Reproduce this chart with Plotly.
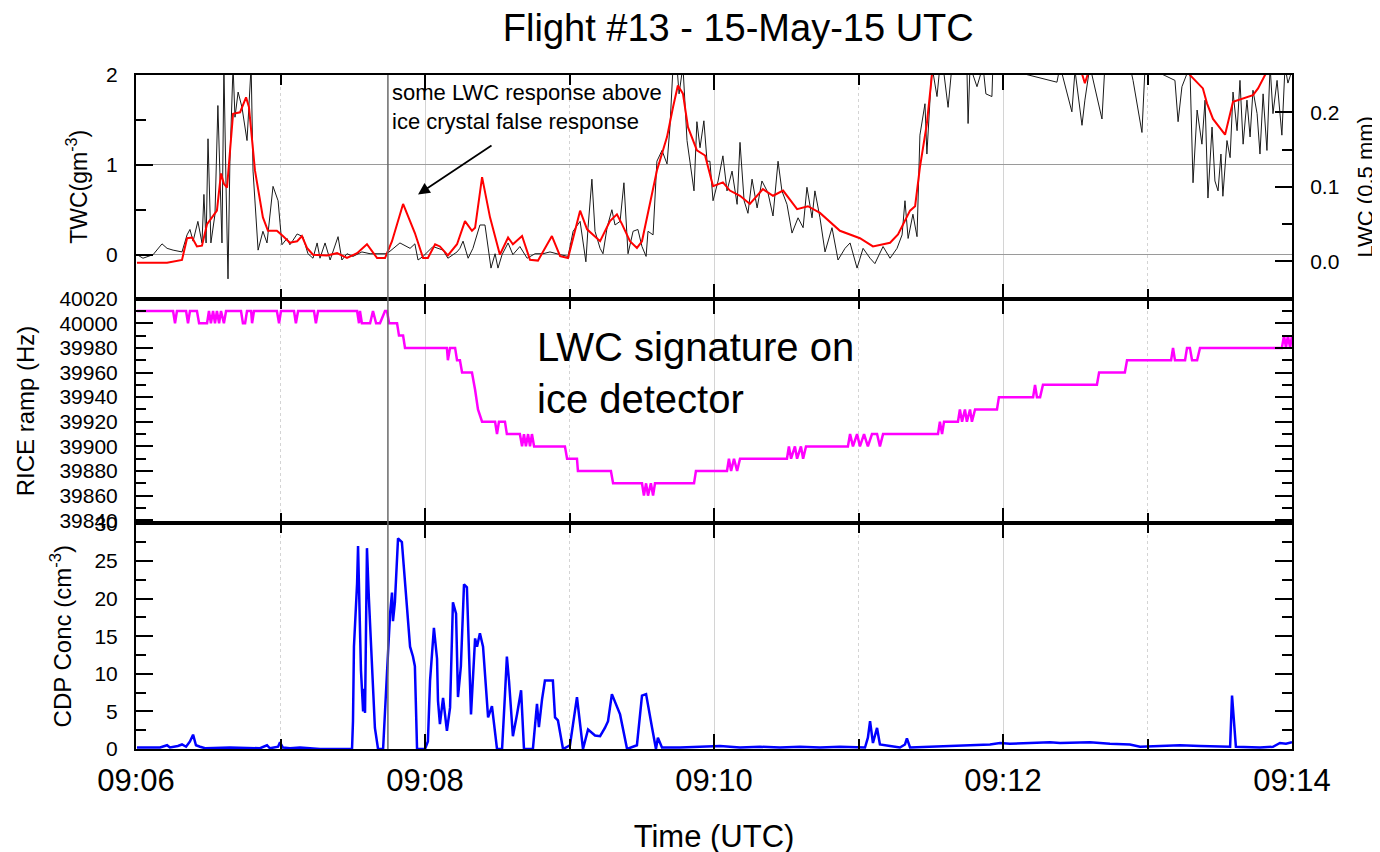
import pandas as pd
import plotly.graph_objects as go

BASE = pd.Timestamp("2015-05-15 09:06:00")
T_END = pd.Timestamp("2015-05-15 09:14:00")

# ---- TWC (g m-3), black, seconds after 09:06:00 ----
twc_t = [0.4, 2.9, 7.1, 10.8, 12.9, 15.4, 19.1, 21.2, 22.4, 23.7, 25.7, 27.4, 28.2, 29.1, 29.9, 31.1,
         32.8, 34.0, 35.7, 36.5, 37.4, 38.2, 39.0, 40.3, 41.1, 42.4, 44.0, 46.1, 47.8, 48.6, 50.7, 52.7,
         54.4, 56.9, 59.0, 60.6, 62.7, 63.9, 65.2, 66.9, 69.3, 71.4, 73.5, 75.2, 76.4, 78.5, 80.6, 83.9,
         85.5, 87.6, 90.1, 93.8, 97.2, 101.3, 104.2, 109.6, 113.8, 115.8, 117.1, 119.2, 123.3, 127.5,
         129.5, 133.3, 134.5, 135.8, 137.9, 139.9, 142.8, 144.9, 147.4, 149.1, 150.3, 152.0, 154.5, 156.5,
         159.4, 162.4, 165.7, 169.0, 171.9, 176.1, 179.4, 181.5, 184.4, 186.8, 187.7, 189.3, 190.6, 192.7,
         193.9, 195.6, 197.6, 198.9, 201.0, 202.6, 204.3, 206.4, 208.4, 210.1, 211.8, 212.6, 214.7, 216.3,
         218.4, 220.5, 221.7, 223.0, 224.6, 225.5, 227.1, 228.8, 230.5, 231.7, 232.9, 234.2, 235.8, 237.1,
         238.3, 239.6, 241.7, 243.7, 245.4, 247.5, 249.6, 250.8, 252.5, 254.1, 255.8, 257.9, 259.9, 262.4,
         264.5, 266.6, 268.2, 270.3, 272.4, 274.9, 277.0, 278.6, 280.7, 281.9, 284.0, 286.1, 289.0, 291.5,
         294.4, 296.5, 299.4, 301.9, 304.8, 306.8, 310.2, 313.1, 316.0, 318.1, 319.3, 320.6, 322.6, 324.3,
         325.5, 327.6, 328.4, 330.5, 332.6, 333.8, 335.1, 337.2, 338.8, 345.0, 345.5, 346.3, 349.2, 351.7,
         352.9, 355.4, 355.8, 382.4, 383.7, 388.6, 389.9, 392.8, 394.0, 396.1, 401.1, 402.3, 412.7, 414.0,
         417.7, 419.0, 431.4, 432.7, 434.3, 437.6, 438.9, 440.6, 442.6, 443.9, 445.1, 446.8, 448.0, 449.3,
         450.5, 451.3, 453.0, 454.3, 455.5, 457.2, 458.4, 459.7, 461.3, 462.6, 463.8, 465.5, 466.7, 468.0,
         469.6, 470.9, 472.1, 473.8, 475.8, 477.1, 478.3, 480.0]
twc_v = [0.0, -0.04, 0.0, 0.12, 0.07, 0.05, 0.03, 0.22, 0.28, 0.15, 0.37, 0.13, 0.67, 0.13, 1.29, 0.13,
         0.45, 1.66, 0.13, 2.1, 0.75, -0.27, 1.04, 2.1, 1.53, 1.81, 1.64, 1.27, 2.1, 0.93, 0.05, 0.26,
         0.13, 0.76, 0.60, 0.11, 0.18, 0.11, 0.16, 0.23, 0.20, 0.01, -0.04, 0.13, -0.04, 0.13, -0.06, 0.20,
         -0.06, 0.01, -0.02, 0.03, 0.01, 0.01, 0.01, 0.13, 0.07, 0.12, -0.06, -0.02, 0.09, 0.05,
         -0.04, 0.03, 0.07, 0.15, -0.04, 0.07, 0.33, 0.33, -0.15, 0.01, -0.15, 0.0, 0.13, 0.0,
         0.09, -0.04, 0.01, 0.01, 0.03, 0.0, -0.02, 0.26, 0.37, -0.08, 0.30, 0.84, 0.26, 0.07,
         0.01, 0.30, 0.50, 0.33, 0.37, 0.80, 0.01, 0.26, 0.28, 0.09, -0.02, 0.26, 0.22, 1.04,
         1.16, 1.01, 1.42, 2.1, 2.1, 1.79, 2.1, 1.27, 0.93, 0.71, 1.48, 1.19, 1.49, 1.04,
         1.04, 0.60, 0.82, 1.10, 0.71, 0.93, 0.56, 1.25, 0.60, 0.46, 0.84, 0.52, 0.82, 0.69,
         0.43, 1.04, 0.71, 0.56, 0.24, 0.41, 0.30, 0.75, 0.41, 0.71, 0.41, 0.03, 0.30, -0.06,
         0.07, 0.13, -0.15, 0.07, -0.04, -0.10, 0.09, -0.04, 0.07, 0.22, 0.60, 0.18, 0.45, 0.20,
         1.33, 1.68, 1.12, 2.1, 1.76, 2.1, 2.1, 1.64, 2.1, 2.1, 1.46, 2.1, 1.87, 2.1,
         1.79, 1.76, 2.1, 1.92, 2.1, 1.59, 2.05, 1.44, 1.72, 2.1, 1.51, 2.1, 2.1, 1.94,
         1.36, 2.1, 1.94, 1.48, 1.87, 2.1, 0.80, 1.61, 1.23, 1.72, 0.63, 1.42, 0.82, 0.71,
         1.12, 0.65, 1.27, 1.08, 1.81, 1.38, 1.94, 1.23, 1.72, 1.31, 1.83, 1.57, 1.12, 1.79,
         1.16, 2.1, 1.57, 1.94, 1.33, 2.1, 1.91, 2.05]

# ---- LWC (0.5 mm), red ----
lwc_t = [0.4, 12.9, 19.1, 21.2, 23.3, 25.3, 27.4, 29.5, 33.6, 35.3, 36.5, 37.8, 40.3, 43.2, 45.7, 46.9,
         49.4, 52.7, 54.8, 58.5, 61.0, 63.9, 66.9, 68.9, 71.0, 73.5, 79.3, 83.5, 87.6, 91.8, 95.9, 100.1,
         103.4, 106.3, 110.9, 115.8, 119.2, 121.2, 124.2, 126.2, 129.5, 133.3, 136.6, 139.5, 140.8, 143.7,
         147.0, 151.1, 154.5, 156.5, 160.3, 163.6, 166.9, 172.7, 176.1, 179.4, 181.5, 184.4, 187.3, 192.7,
         196.8, 199.7, 201.8, 205.1, 208.0, 210.1, 216.3, 220.5, 223.0, 225.0, 227.1, 229.2, 232.9, 236.3,
         239.6, 243.7, 246.6, 250.8, 254.9, 260.3, 264.5, 268.7, 274.5, 279.0, 284.0, 292.3, 300.6, 306.0,
         313.1, 316.4, 321.4, 323.5, 325.5, 328.4, 330.5, 333.8, 350.4, 375.4, 392.0, 394.0, 396.1, 408.6,
         435.6, 437.6, 443.0, 444.7, 447.2, 452.2, 455.5, 461.3, 463.8, 465.9, 468.8, 472.9, 480.0]
lwc_v = [-0.002, -0.002, 0.002, 0.031, 0.032, 0.020, 0.021, 0.050, 0.068, 0.118, 0.104, 0.099, 0.198,
         0.200, 0.220, 0.207, 0.122, 0.059, 0.041, 0.041, 0.034, 0.025, 0.027, 0.034, 0.018, 0.009,
         0.008, 0.011, 0.0045, 0.011, 0.023, 0.0045, 0.0045, 0.027, 0.077, 0.038, 0.0045, 0.0045, 0.023,
         0.020, 0.008, 0.023, 0.054, 0.041, 0.045, 0.113, 0.059, 0.009, 0.032, 0.023, 0.034, 0.002,
         0.001, 0.034, 0.007, 0.0045, 0.031, 0.068, 0.043, 0.027, 0.054, 0.063, 0.050, 0.027, 0.018,
         0.027, 0.122, 0.167, 0.207, 0.236, 0.225, 0.180, 0.149, 0.142, 0.101, 0.106, 0.095, 0.088,
         0.077, 0.097, 0.088, 0.095, 0.070, 0.074, 0.065, 0.041, 0.031, 0.020, 0.025, 0.036, 0.068,
         0.074, 0.126, 0.185, 0.250, 0.280, 0.290, 0.290, 0.260, 0.239, 0.260, 0.280, 0.270, 0.250,
         0.232, 0.212, 0.191, 0.170, 0.214, 0.221, 0.223, 0.232, 0.250, 0.270, 0.280]

# ---- RICE ramp (Hz), magenta ----
rice_t = [0.4, 15.4, 16.2, 17.0, 20.8, 21.6, 22.4, 25.3, 26.2, 29.5, 30.3, 31.1, 32.0, 32.8, 33.6, 34.5,
          35.3, 36.5, 37.4, 43.6, 44.4, 45.3, 46.1, 47.8, 48.2, 49.0, 58.5, 59.4, 60.2, 65.6, 66.4, 67.3,
          73.9, 74.7, 75.6, 91.8, 92.6, 93.0, 93.8, 97.2, 98.4, 99.7, 101.3, 103.4, 104.2, 105.1, 108.4,
          109.2, 110.9, 111.7, 129.1, 129.5, 130.4, 132.5, 133.3, 134.5, 135.4, 139.5, 140.8, 142.0, 143.7,
          149.1, 149.9, 150.7, 153.2, 154.0, 159.4, 160.3, 161.1, 161.9, 162.8, 163.6, 164.4, 165.3, 167.7,
          178.1, 179.0, 183.1, 183.5, 197.2, 198.1, 210.1, 210.9, 211.8, 212.6, 213.8, 214.7, 215.5, 231.7,
          232.5, 245.4, 246.2, 247.1, 248.3, 249.6, 250.8, 270.3, 271.1, 272.0, 273.6, 274.5, 276.1, 277.0,
          278.2, 295.6, 296.5, 297.7, 299.4, 300.6, 302.3, 303.9, 305.6, 307.7, 308.9, 310.2, 333.0, 333.8,
          334.7, 335.5, 341.3, 342.1, 343.0, 344.2, 345.0, 346.3, 347.1, 348.4, 349.6, 357.5, 358.3, 372.5,
          373.3, 374.1, 375.4, 376.6, 399.0, 399.9, 410.6, 411.5, 429.8, 430.6, 431.4, 435.6, 436.4, 437.6,
          438.5, 440.6, 441.8, 475.8, 476.7, 477.5, 478.3, 479.2, 480.0]
rice_v = [40010, 40010, 40000, 40010, 40010, 40000, 40010, 40010, 40000, 40000, 40010, 40000, 40010, 40000,
          40010, 40000, 40010, 40000, 40010, 40010, 40000, 40000, 40010, 40010, 40000, 40010, 40010, 40000,
          40010, 40010, 40000, 40010, 40010, 40000, 40010, 40010, 40000, 40010, 40000, 40000, 40010, 40000,
          40000, 40010, 40010, 40000, 40000, 39990, 39990, 39980, 39980, 39970, 39980, 39980, 39970, 39970,
          39960, 39960, 39946, 39930, 39920, 39920, 39910, 39920, 39920, 39910, 39910, 39900, 39910, 39900,
          39910, 39900, 39910, 39900, 39900, 39900, 39890, 39890, 39880, 39880, 39870, 39870, 39860, 39870,
          39860, 39870, 39860, 39870, 39870, 39880, 39880, 39890, 39880, 39890, 39880, 39890, 39890, 39900,
          39890, 39900, 39890, 39900, 39890, 39900, 39900, 39910, 39900, 39910, 39900, 39910, 39900, 39910,
          39910, 39900, 39910, 39910, 39920, 39910, 39920, 39920, 39930, 39920, 39930, 39920, 39930, 39920,
          39930, 39930, 39930, 39940, 39940, 39950, 39940, 39940, 39950, 39950, 39960, 39960, 39970, 39970,
          39980, 39970, 39970, 39980, 39980, 39970, 39970, 39980, 39980, 39990, 39980, 39990, 39980, 39990]

# ---- CDP concentration (cm-3), blue ----
cdp_t = [0.4, 10.0, 12.9, 14.1, 17.4, 19.1, 20.8, 22.4, 23.7, 24.9, 26.6, 28.7, 39.0, 51.5, 54.4, 55.6,
         59.0, 59.8, 61.0, 63.9, 68.1, 76.4, 89.7, 90.1, 90.5, 91.3, 91.8, 92.2, 93.0, 93.4, 94.3, 94.7,
         95.1, 95.9, 96.7, 98.0, 99.2, 100.5, 102.6, 104.2, 105.5, 106.3, 106.7, 107.5, 108.8, 110.4, 111.7,
         113.8, 115.0, 115.8, 116.7, 120.0, 121.2, 122.1, 123.7, 125.0, 125.4, 126.2, 127.5, 129.1, 130.4,
         131.6, 132.9, 133.7, 134.9, 136.2, 137.4, 139.1, 140.8, 141.6, 142.8, 144.1, 146.2, 147.8, 149.9,
         152.0, 153.2, 154.0, 154.9, 156.5, 158.2, 159.9, 161.1, 164.8, 166.5, 167.3, 168.6, 169.8, 173.1,
         174.0, 175.2, 177.3, 180.2, 183.1, 185.6, 187.7, 190.6, 192.7, 194.7, 196.0, 197.6, 201.0, 203.9,
         208.0, 210.1, 211.8, 214.3, 215.9, 216.7, 218.4, 225.9, 234.2, 242.5, 250.8, 259.1, 267.4, 275.7,
         284.0, 292.3, 302.7, 303.9, 304.8, 306.0, 307.7, 308.9, 313.1, 317.2, 319.3, 320.1, 321.4, 329.7,
         338.0, 346.3, 354.6, 358.8, 362.9, 371.2, 379.5, 383.7, 392.0, 396.1, 404.4, 412.7, 416.9, 425.2,
         433.5, 441.8, 450.1, 454.3, 455.1, 455.9, 456.7, 466.7, 472.1, 475.0, 477.5, 480.0]
cdp_v = [0.2, 0.2, 0.5, 0.2, 0.4, 0.6, 0.3, 1.0, 1.9, 0.5, 0.3, 0.1, 0.2, 0.1, 0.5, 0.1,
         0.3, 0.9, 0.2, 0.1, 0.2, 0.0, 0.0, 3.7, 13.6, 18.0, 22.0, 27.0, 18.0, 10.5, 5.0, 8.0,
         4.8, 26.7, 20.0, 10.0, 2.8, 0.0, 0.0, 10.0, 18.0, 20.8, 17.0, 19.5, 28.0, 27.5, 22.6,
         13.6, 12.3, 11.0, 0.0, 0.0, 1.0, 9.1, 16.1, 12.0, 6.4, 3.3, 6.8, 2.4, 5.5,
         19.5, 18.0, 6.9, 11.0, 21.9, 21.5, 4.6, 14.7, 13.6, 15.4, 13.6, 4.2, 5.7, 0.0,
         0.0, 7.2, 12.3, 9.0, 1.7, 4.6, 7.8, 0.0, 0.0, 6.0, 2.9, 6.6, 9.1, 9.1,
         4.2, 3.8, 0.0, 0.5, 6.9, 0.0, 2.6, 1.8, 1.7, 2.8, 3.7, 7.3, 4.6, 0.0,
         0.5, 7.1, 7.3, 2.8, 0.0, 1.5, 0.2, 0.2, 0.3, 0.4, 0.2, 0.3, 0.2, 0.3,
         0.2, 0.3, 0.2, 1.5, 3.7, 0.8, 2.8, 0.6, 0.4, 0.2, 0.6, 1.4, 0.2, 0.3,
         0.4, 0.5, 0.6, 0.8, 0.7, 0.8, 0.9, 0.8, 0.8, 0.9, 0.7, 0.6, 0.3, 0.4,
         0.5, 0.4, 0.3, 0.3, 7.1, 4.0, 0.3, 0.2, 0.3, 0.8, 0.7, 0.9]

MARK_T = 104.6              # vertical reference line (s after 09:06)
ARROW_HEAD = (117.1, 0.67)  # arrow tip (s, TWC)

TITLE = "Flight #13 - 15-May-15 UTC"
NOTE_SMALL = "some LWC response above<br>ice crystal false response"
NOTE_BIG = "LWC signature on<br>ice detector"


def tt(secs):
    return BASE + pd.to_timedelta(secs, unit="s")


FONT = "Arial, Liberation Sans, sans-serif"

fig = go.Figure()
fig.add_trace(go.Scatter(x=tt(twc_t), y=twc_v, xaxis="x", yaxis="y", mode="lines",
                         line=dict(color="#1a1a1a", width=1), showlegend=False))
fig.add_trace(go.Scatter(x=tt(lwc_t), y=lwc_v, xaxis="x", yaxis="y2", mode="lines",
                         line=dict(color="#ff0000", width=2), showlegend=False))
fig.add_trace(go.Scatter(x=tt(rice_t), y=rice_v, xaxis="x2", yaxis="y3", mode="lines",
                         line=dict(color="#ff00ff", width=2.5), showlegend=False))
fig.add_trace(go.Scatter(x=tt(cdp_t), y=cdp_v, xaxis="x3", yaxis="y4", mode="lines",
                         line=dict(color="#0000ff", width=2.5), showlegend=False))

D1, D2 = 0.3348, 0.6682

xcommon = dict(
    type="date", range=[BASE, T_END], tick0=BASE, dtick=120000, tickformat="%H:%M",
    showline=True, linewidth=2, linecolor="black", mirror="ticks",
    ticks="inside", ticklen=15, tickwidth=2, tickcolor="black",
    showgrid=True, gridcolor="#d4d4d4", gridwidth=1, zeroline=False,
    minor=dict(dtick=60000, tick0=BASE, ticks="inside", ticklen=10, tickwidth=2, tickcolor="black",
               showgrid=True, gridcolor="#d4d4d4", griddash="dot", gridwidth=1),
    tickfont=dict(family=FONT, size=31, color="black"),
)

ycommon = dict(
    showline=True, linewidth=2, linecolor="black", ticks="inside", ticklen=17, tickwidth=2,
    tickcolor="black", zeroline=False, tickfont=dict(family=FONT, size=21, color="black"),
    ticklabelstandoff=12,
)

fig.update_layout(
    width=1380, height=852,
    margin=dict(l=128, r=96, t=67, b=101),
    paper_bgcolor="white", plot_bgcolor="white",
    font=dict(family=FONT, color="black"),
    title=dict(text=TITLE, x=0.521, xref="paper", xanchor="center", y=1 - 20 / 852, yref="container",
               yanchor="middle", font=dict(family=FONT, size=38, color="black")),
    xaxis=dict(xcommon, anchor="y", matches="x3", showticklabels=False),
    xaxis2=dict(xcommon, anchor="y3", matches="x3", showticklabels=False),
    xaxis3=dict(xcommon, anchor="y4", showticklabels=True, ticklabelstandoff=3,
                title=dict(text="Time (UTC)", font=dict(family=FONT, size=31, color="black"), standoff=28)),
    yaxis=dict(ycommon, domain=[D2, 1], anchor="x", range=[-0.49, 2.0], dtick=1, tick0=0,
               showgrid=True, gridcolor="#9a9a9a", gridwidth=1,
               minor=dict(dtick=0.5, tick0=0, ticks="inside", ticklen=10, tickwidth=2, tickcolor="black"),
               title=dict(text="TWC(gm<sup>-3</sup>)", font=dict(family=FONT, size=23), standoff=12)),
    yaxis2=dict(ycommon, overlaying="y", side="right", anchor="x", range=[-0.05, 0.25], dtick=0.1, tick0=0,
                tickformat=".1f", showgrid=False,
                minor=dict(dtick=0.05, tick0=0, ticks="inside", ticklen=10, tickwidth=2, tickcolor="black"),
                title=dict(text="LWC (0.5 mm)", font=dict(family=FONT, size=22), standoff=19)),
    yaxis3=dict(ycommon, domain=[D1, D2], anchor="x2", range=[39837.5, 40020], dtick=20, tick0=40000,
                tickformat="d", mirror="ticks", showgrid=False,
                minor=dict(dtick=10, tick0=40000, ticks="inside", ticklen=10, tickwidth=2, tickcolor="black"),
                title=dict(text="RICE ramp (Hz)", font=dict(family=FONT, size=24), standoff=18)),
    yaxis4=dict(ycommon, domain=[0, D1], anchor="x3", range=[0, 30], dtick=5, tick0=0,
                mirror="ticks", showgrid=False,
                minor=dict(dtick=2.5, tick0=0, ticks="inside", ticklen=10, tickwidth=2, tickcolor="black"),
                title=dict(text="CDP Conc (cm<sup>-3</sup>)", font=dict(family=FONT, size=24), standoff=16)),
)

fig.add_shape(type="line", xref="x", yref="paper", x0=tt([MARK_T])[0], x1=tt([MARK_T])[0], y0=0, y1=1,
              line=dict(color="#6a6a6a", width=1.5))

fig.add_annotation(xref="paper", yref="paper", x=(390 - 136) / 1156, y=0.953, xanchor="left",
                   yanchor="middle", align="left", showarrow=False, text=NOTE_SMALL,
                   font=dict(family=FONT, size=22, color="black"))
fig.add_annotation(xref="paper", yref="paper", x=0.3452, y=0.5575, xanchor="left", yanchor="middle",
                   align="left", showarrow=False, text=NOTE_BIG,
                   font=dict(family=FONT, size=40, color="black"))
fig.add_annotation(xref="x", yref="y", x=tt([ARROW_HEAD[0]])[0], y=ARROW_HEAD[1], ax=75, ay=-50,
                   text="", showarrow=True, arrowhead=2, arrowsize=1.3, arrowwidth=1.8, arrowcolor="black")

fig.write_html("out.html")
